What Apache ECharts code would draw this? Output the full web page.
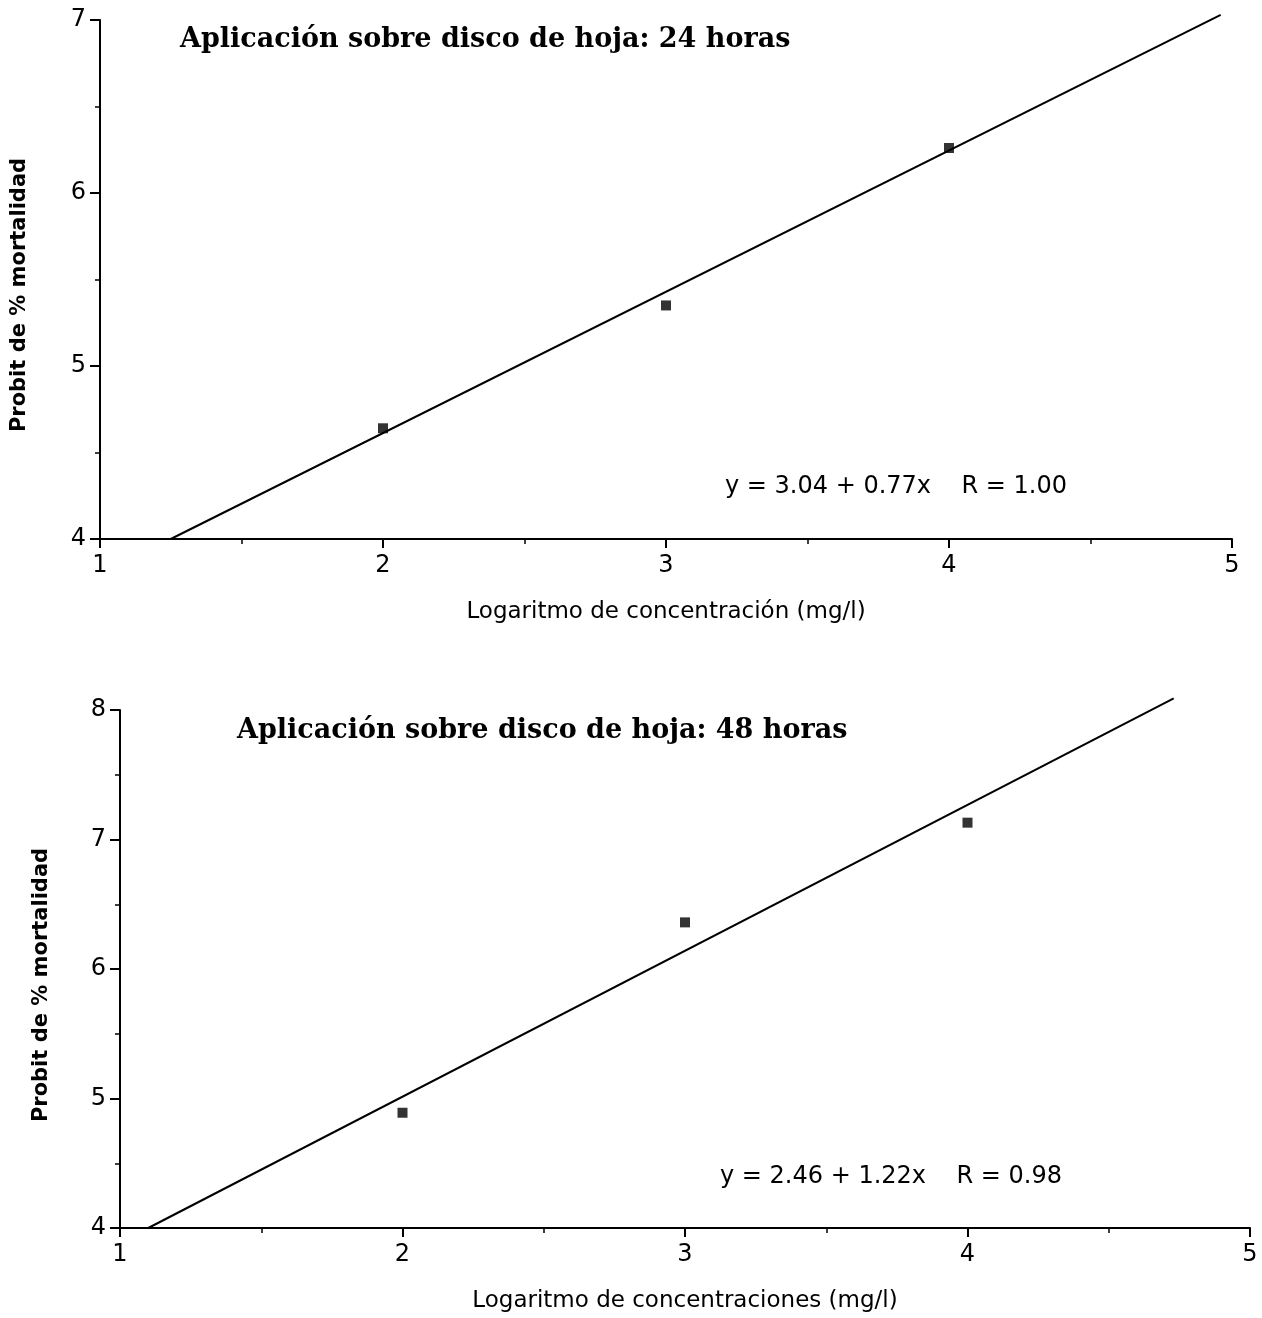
<!DOCTYPE html>
<html>
<head>
<meta charset="utf-8">
<script src="https://cdn.jsdelivr.net/npm/echarts@6/dist/echarts.min.js"></script>
<style>html,body{margin:0;padding:0;background:#fff}#c{width:1262px;height:1318px}</style>
</head>
<body>
<div id="c"></div>
<script>
// Top chart (24 horas)
const pts24 = [[2, 4.64], [3, 5.35], [4, 6.26]];
const fit24 = [[1.25, 4.0], [4.96, 7.03]];
// Bottom chart (48 horas)
const pts48 = [[2, 4.89], [3, 6.36], [4, 7.13]];
const fit48 = [[1.10, 4.0], [4.73, 8.09]];

const titles = ['Aplicación sobre disco de hoja: 24 horas', 'Aplicación sobre disco de hoja: 48 horas'];
const xNames = ['Logaritmo de concentración (mg/l)', 'Logaritmo de concentraciones (mg/l)'];
const yName = 'Probit de % mortalidad';
const equations = ['y = 3.04 + 0.77x    R = 1.00', 'y = 2.46 + 1.22x    R = 0.98'];
const xRange = [1, 5];
const yRanges = [[4, 7], [4, 8]];

const sans = '"DejaVu Sans", Verdana, sans-serif';
const serif = '"DejaVu Serif", "Liberation Serif", serif';

function xAxis(i) {
  return {
    type: 'value', gridIndex: i, min: xRange[0], max: xRange[1], interval: 1,
    name: xNames[i], nameLocation: 'middle', nameGap: 62,
    nameTextStyle: { fontFamily: sans, fontSize: 23, color: '#000' },
    axisLine: { show: true, onZero: false, lineStyle: { color: '#000', width: 2 } },
    axisTick: { show: true, length: 9, lineStyle: { color: '#000', width: 2 } },
    minorTick: { show: true, splitNumber: 2, length: 5, lineStyle: { color: '#000', width: 1.5 } },
    splitLine: { show: false },
    axisLabel: { fontFamily: sans, fontSize: 24, color: '#000', margin: 15 }
  };
}
function yAxis(i) {
  return {
    type: 'value', gridIndex: i, min: yRanges[i][0], max: yRanges[i][1], interval: 1,
    axisLine: { show: true, onZero: false, lineStyle: { color: '#000', width: 2 } },
    axisTick: { show: true, length: 10, lineStyle: { color: '#000', width: 2 } },
    minorTick: { show: true, splitNumber: 2, length: 5, lineStyle: { color: '#000', width: 1.5 } },
    splitLine: { show: false },
    axisLabel: { fontFamily: sans, fontSize: 24, color: '#000', margin: 14 }
  };
}

const chart = echarts.init(document.getElementById('c'), null, { renderer: 'canvas' });
chart.setOption({
  backgroundColor: '#fff',
  animation: false,
  title: [
    { text: titles[0], left: 175, top: 21, textStyle: { fontFamily: serif, fontSize: 27, fontWeight: 'bold', color: '#000' } },
    { text: titles[1], left: 232, top: 712, textStyle: { fontFamily: serif, fontSize: 27, fontWeight: 'bold', color: '#000' } }
  ],
  grid: [
    { left: 100, top: 20, width: 1132, height: 519 },
    { left: 120, top: 710, width: 1130, height: 518 }
  ],
  xAxis: [xAxis(0), xAxis(1)],
  yAxis: [yAxis(0), yAxis(1)],
  graphic: [
    { type: 'text', left: 725, top: 475, style: { text: equations[0], fontFamily: sans, fontSize: 24, fill: '#000' } },
    { type: 'text', left: 720, top: 1165, style: { text: equations[1], fontFamily: sans, fontSize: 24, fill: '#000' } },
    { type: 'text', x: 20, y: 295, rotation: Math.PI / 2,
      style: { text: yName, fontFamily: sans, fontSize: 21, fontWeight: 'bold', fill: '#000', align: 'center', verticalAlign: 'middle' } },
    { type: 'text', x: 42, y: 985, rotation: Math.PI / 2,
      style: { text: yName, fontFamily: sans, fontSize: 21, fontWeight: 'bold', fill: '#000', align: 'center', verticalAlign: 'middle' } }
  ],
  series: [
    { type: 'line', xAxisIndex: 0, yAxisIndex: 0, data: fit24, showSymbol: false, clip: false,
      lineStyle: { color: '#000', width: 2 } },
    { type: 'scatter', xAxisIndex: 0, yAxisIndex: 0, data: pts24, symbol: 'rect', symbolSize: 10,
      itemStyle: { color: '#000' } },
    { type: 'line', xAxisIndex: 1, yAxisIndex: 1, data: fit48, showSymbol: false, clip: false,
      lineStyle: { color: '#000', width: 2 } },
    { type: 'scatter', xAxisIndex: 1, yAxisIndex: 1, data: pts48, symbol: 'rect', symbolSize: 10,
      itemStyle: { color: '#000' } }
  ]
});
</script>
</body>
</html>
